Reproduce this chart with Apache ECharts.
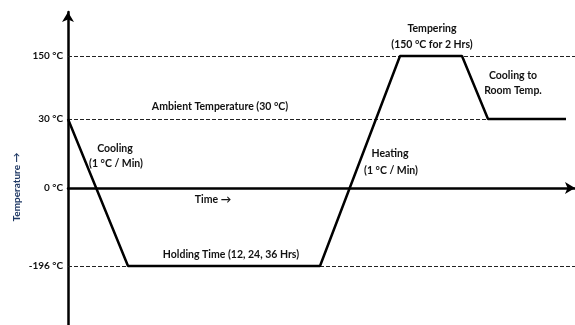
<!DOCTYPE html>
<html>
<head>
<meta charset="utf-8">
<script src="https://cdn.jsdelivr.net/npm/echarts@6/dist/echarts.min.js"></script>
<style>html,body{margin:0;padding:0;background:#fff}#c{width:575px;height:325px}</style>
</head>
<body>
<div id="c"></div>
<script>
// ---- data ----
const levelTemps = [150, 30, 0, -196];
const levelLabels = ['150 °C', '30 °C', '0 °C', '-196 °C'];
const profileTime = [0, 60, 252, 332, 394, 420, 498];
const profileTemp = [30, -196, -196, 150, 150, 30, 30];
const annotationTexts = [
  'Tempering', '(150 °C for 2 Hrs)', 'Cooling to', 'Room Temp.',
  'Ambient Temperature (30 °C)', 'Cooling', '(1 °C / Min)', 'Time →',
  'Holding Time (12, 24, 36 Hrs)', 'Heating', '(1 °C / Min)'
];
const yAxisTitle = 'Temperature →';

// ---- schematic (non-linear) temperature scale ----
const scaleTemps = [-196, 0, 30, 150];
const scaleAxis = [-78, 0, 69, 132];
function schem(t) {
  for (let i = 0; i < scaleTemps.length - 1; i++) {
    if (t <= scaleTemps[i + 1]) {
      const f = (t - scaleTemps[i]) / (scaleTemps[i + 1] - scaleTemps[i]);
      return scaleAxis[i] + f * (scaleAxis[i + 1] - scaleAxis[i]);
    }
  }
  return scaleAxis[scaleAxis.length - 1];
}
const levelAxis = levelTemps.map(schem);

const FONT = 'Lato';
const annPos = [
  [432, 29], [432, 45], [513, 76], [513, 91],
  [220, 107], [115, 149], [116, 164], [213, 200],
  [231, 255], [390, 154], [391, 171]
];

const chart = echarts.init(document.getElementById('c'), null, {renderer: 'canvas'});
const tMax = 507;
const dashStyle = {type: [4, 2], width: 1, color: '#222'};

chart.setOption({
  animation: false,
  backgroundColor: '#fff',
  grid: {left: 68, right: 0, top: 12, bottom: 0, containLabel: false},
  xAxis: {
    type: 'value', min: 0, max: tMax,
    axisLine: {show: true, onZero: true, symbol: ['none', 'arrow'], symbolSize: [9, 10], lineStyle: {color: '#000', width: 2.5}},
    axisTick: {show: false}, axisLabel: {show: false}, splitLine: {show: false}
  },
  yAxis: {
    type: 'value', min: -137, max: 176,
    axisLine: {show: true, symbol: ['none', 'arrow'], symbolSize: [9, 10], lineStyle: {color: '#000', width: 2.5}},
    axisTick: {show: false}, splitLine: {show: false},
    axisLabel: {
      show: true, customValues: levelAxis, margin: 5,
      color: '#111', fontFamily: FONT, fontWeight: 'bold', fontSize: 10,
      formatter: function (v) {
        const i = levelAxis.findIndex(a => Math.abs(a - v) < 0.01);
        return i >= 0 ? levelLabels[i] : '';
      }
    }
  },
  series: [{
    type: 'line',
    data: profileTime.map((t, i) => [t, schem(profileTemp[i])]),
    symbol: 'none',
    lineStyle: {color: '#000', width: 2.5},
    z: 5,
    markLine: {
      silent: true, symbol: ['none', 'none'], label: {show: false},
      lineStyle: dashStyle,
      data: [
        [{coord: [0, schem(150)]}, {coord: [tMax, schem(150)]}],
        [{coord: [0, schem(30)]}, {coord: [profileTime[profileTime.length - 1], schem(30)]}],
        [{coord: [0, schem(-196)]}, {coord: [tMax, schem(-196)]}]
      ]
    }
  }],
  graphic: annotationTexts.map((txt, i) => ({
    type: 'text', x: annPos[i][0], y: annPos[i][1], z: 10,
    style: {text: txt, fill: '#111', font: 'bold 10.5px ' + FONT, textAlign: 'center', textVerticalAlign: 'middle'}
  })).concat([{
    type: 'text', x: 17, y: 187, rotation: Math.PI / 2, z: 10,
    style: {text: yAxisTitle, fill: '#1F3864', font: 'bold 10px ' + FONT, textAlign: 'center', textVerticalAlign: 'middle'}
  }])
});
</script>
</body>
</html>
